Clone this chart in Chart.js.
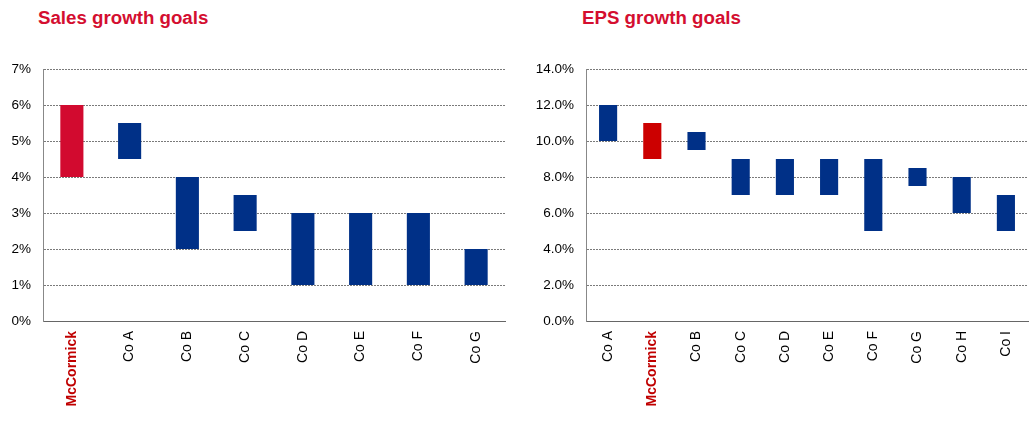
<!DOCTYPE html>
<html>
<head>
<meta charset="utf-8">
<script src="https://cdn.jsdelivr.net/npm/chart.js@4"></script>
<style>
  body { margin: 0; background: #fff; width: 1035px; height: 424px; position: relative; overflow: hidden; font-family: "Liberation Sans", Arial, sans-serif; }
  .title { position: absolute; top: 7px; color: #D40E30; font-weight: bold; font-size: 18.7px; }
  .box { position: absolute; top: 0; width: 515px; height: 424px; }
</style>
</head>
<body>
<div class="title" style="left:38px">Sales growth goals</div>
<div class="title" style="left:582px">EPS growth goals</div>
<div class="box" style="left:0"><canvas id="sales" width="515" height="424"></canvas></div>
<div class="box" style="left:520px"><canvas id="eps" width="515" height="424"></canvas></div>
<script>
// sales growth goal ranges (%)
var salesLabels = ['McCormick', 'Co A', 'Co B', 'Co C', 'Co D', 'Co E', 'Co F', 'Co G'];
var salesLow  = [4, 4.5, 2, 2.5, 1, 1, 1, 1];
var salesHigh = [6, 5.5, 4, 3.5, 3, 3, 3, 2];

// EPS growth goal ranges (%)
var epsLabels = ['Co A', 'McCormick', 'Co B', 'Co C', 'Co D', 'Co E', 'Co F', 'Co G', 'Co H', 'Co I'];
var epsLow  = [10, 9, 9.5, 7, 7, 7, 5, 7.5, 6, 5];
var epsHigh = [12, 11, 10.5, 9, 9, 9, 9, 8.5, 8, 7];

var NAVY = '#003087';
var FONT = '"Liberation Sans", Arial, sans-serif';

function makeChart(id, labels, low, high, opts) {
  var ranges = labels.map(function (l, i) { return [low[i], high[i]]; });
  var colors = labels.map(function (l) { return l === 'McCormick' ? opts.red : NAVY; });
  return new Chart(document.getElementById(id), {
    type: 'bar',
    data: {
      labels: labels,
      datasets: [{
        data: ranges,
        backgroundColor: colors,
        borderWidth: 0,
        barPercentage: opts.barPct,
        categoryPercentage: 1
      }]
    },
    options: {
      responsive: false,
      animation: false,
      devicePixelRatio: 1,
      layout: { padding: { top: 69, right: opts.padRight, left: 0, bottom: 0 } },
      plugins: { legend: { display: false }, tooltip: { enabled: false } },
      scales: {
        x: {
          grid: { display: false, drawTicks: false },
          border: { color: '#666', width: 1 },
          ticks: {
            minRotation: 90, maxRotation: 90, padding: 10, autoSkip: false,
            font: function (c) {
              return { family: FONT, size: 14, weight: labels[c.index] === 'McCormick' ? 'bold' : 'normal' };
            },
            color: function (c) { return labels[c.index] === 'McCormick' ? '#C00000' : '#000'; }
          },
          afterFit: function (s) { s.height = 103; }
        },
        y: {
          min: 0, max: opts.max,
          grid: { color: '#7a7a7a', drawTicks: false },
          border: { color: '#888', dash: [2, 1] },
          ticks: {
            stepSize: opts.step, padding: 12, color: '#000',
            font: { family: FONT, size: 13.5 },
            callback: function (v) { return v.toFixed(opts.dec) + '%'; }
          },
          afterFit: function (s) { s.width = opts.axisW; }
        }
      }
    }
  });
}

makeChart('sales', salesLabels, salesLow, salesHigh,
  { red: '#D20A2F', barPct: 0.4, padRight: 10, max: 7, step: 1, dec: 0, axisW: 43 });
makeChart('eps', epsLabels, epsLow, epsHigh,
  { red: '#CC0000', barPct: 0.41, padRight: 7, max: 14, step: 2, dec: 1, axisW: 66 });
</script>
</body>
</html>
